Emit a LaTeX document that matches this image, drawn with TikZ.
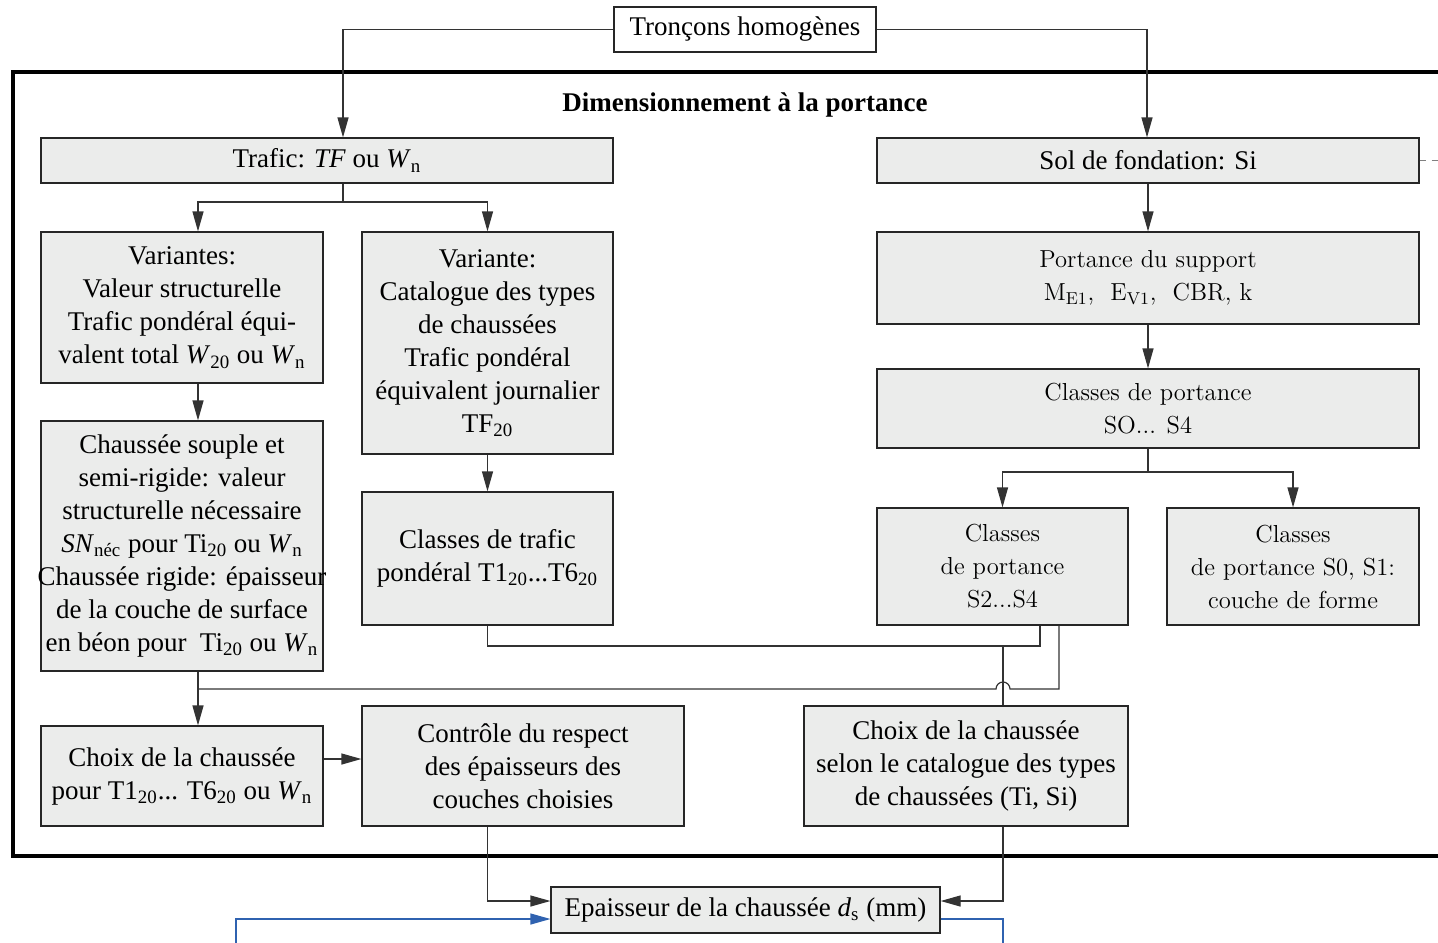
\documentclass[tikz,border=0pt]{standalone}
\usepackage{fontspec}
\setmainfont{Liberation Serif}
\usetikzlibrary{arrows.meta,calc}
\definecolor{boxfill}{HTML}{EBECEB}
\definecolor{linec}{HTML}{333333}
\definecolor{bluec}{HTML}{2F62B0}
\begin{document}
\begin{tikzpicture}[x=0.5pt,y=-0.5pt,
  box/.style={draw=black!85,line width=0.6pt,fill=boxfill,align=center,inner sep=0pt,font=\fontsize{13.5}{16.5}\selectfont},
  lmbox/.style={box,font=\fontfamily{lmr}\fontsize{12.3}{16.5}\selectfont},
  conn/.style={draw=linec,line width=0.6pt},
  arr/.style={conn,-{Triangle[length=10pt,width=5.5pt]}},
  bluearr/.style={draw=bluec,line width=0.6pt,-{Triangle[length=10pt,width=5.5pt]}},
  blueline/.style={draw=bluec,line width=0.6pt},
]
\useasboundingbox (0,0) rectangle (1438,942);
\fill[white] (0,0) rectangle (1438,942);

% outer frame
\draw[line width=2pt] (1450,72) -- (13,72) -- (13,856) -- (1450,856);

% nodes
\node[box,fill=white,minimum width=131pt,minimum height=22.5pt] (tron) at (745,29.5) {Tronçons homogènes};
\node[font=\bfseries\fontsize{13.5}{16.5}\selectfont] (title) at (745,105) {Dimensionnement à la portance};
\node[box,minimum width=286pt,minimum height=22.5pt] (traf) at (327,160.5) {Trafic: \textit{TF} ou \textit{W}\textsubscript{n}};
\node[box,minimum width=271pt,minimum height=22.5pt] (sol) at (1148,160.5) {Sol de fondation: Si};
\node[box,minimum width=141pt,minimum height=75.5pt] (var1) at (182,307.5) {Variantes:\\Valeur structurelle\\Trafic pondéral équi-\\valent total \textit{W}\textsubscript{20} ou \textit{W}\textsubscript{n}};
\node[box,minimum width=125.5pt,minimum height=111pt] (var2) at (487.5,343) {Variante:\\Catalogue des types\\de chaussées\\Trafic pondéral\\équivalent journalier\\TF\textsubscript{20}};
\node[box,minimum width=141pt,minimum height=125pt] (chs) at (182,546) {Chaussée souple et\\semi-rigide: valeur\\structurelle nécessaire\\\textit{SN}\textsubscript{néc} pour Ti\textsubscript{20} ou \textit{W}\textsubscript{n}\\\makebox[130pt][c]{Chaussée rigide: épaisseur}\\de la couche de surface\\en béon pour~ Ti\textsubscript{20} ou \textit{W}\textsubscript{n}};
\node[box,minimum width=125.5pt,minimum height=66.5pt] (ctraf) at (487.5,558.5) {Classes de trafic\\pondéral T1\textsubscript{20}...T6\textsubscript{20}};
\node[lmbox,minimum width=271pt,minimum height=46pt] (port) at (1148,278) {Portance du support\\M\textsubscript{E1}, ~E\textsubscript{V1}, ~CBR, k};
\node[lmbox,minimum width=271pt,minimum height=39.5pt] (cport) at (1148,408.5) {Classes de portance\\SO... S4};
\node[lmbox,minimum width=125.5pt,minimum height=58.5pt] (s24) at (1002.5,566.5) {Classes\\de portance\\S2...S4};
\node[lmbox,minimum width=126pt,minimum height=58.5pt] (s01) at (1293,566.5) {Classes\\de portance S0, S1:\\couche de forme};
\node[box,minimum width=141pt,minimum height=50pt] (choix1) at (182,776) {Choix de la chaussée\\pour T1\textsubscript{20}... T6\textsubscript{20} ou \textit{W}\textsubscript{n}};
\node[box,minimum width=161pt,minimum height=60pt] (ctrl) at (523,766) {Contrôle du respect\\des épaisseurs des\\couches choisies};
\node[box,minimum width=162pt,minimum height=60pt] (choix2) at (966,766) {Choix de la chaussée\\selon le catalogue des types\\de chaussées (Ti, Si)};
\node[box,minimum width=194.5pt,minimum height=23pt] (epa) at (745.5,910) {Epaisseur de la chaussée \textit{d}\textsubscript{s} (mm)};

% coordinates
\coordinate (tl) at (343,29.5);
\coordinate (tr) at (1147,29.5);
\coordinate (ts) at (343,202);
\coordinate (v1) at (198,202);
\coordinate (cs) at (1148,472);
\coordinate (j1) at (1040,646);
\coordinate (j2) at (1003,646);
\coordinate (k1) at (1059,689);
\coordinate (k2) at (1010,689);
\coordinate (k0) at (198,689);
\coordinate (e1) at (487.5,901);
\coordinate (e2) at (1003,901);
\coordinate (b1) at (236,919);
\coordinate (b0) at (236,950);
\coordinate (b2) at (1003,919);
\coordinate (b3) at (1003,950);
\coordinate (d1) at (1445,160.5);

% connectors
\draw[arr] (tron.west) -- (tl) -- (tl |- traf.north);
\draw[arr] (tron.east) -- (tr) -- (tr |- sol.north);
\draw[conn] (ts |- traf.south) -- (ts);
\draw[arr] (ts) -- (v1) -- (v1 |- var1.north);
\draw[arr] (ts) -| (var2.north);
\draw[arr] (v1 |- var1.south) -- (v1 |- chs.north);
\draw[arr] (var2.south) -- (ctraf.north);
\draw[conn,dashed,draw=gray] (sol.east) -- (d1);
\draw[arr] (sol.south) -- (port.north);
\draw[arr] (port.south) -- (cport.north);
\draw[conn] (cport.south) -- (cs);
\draw[arr] (cs) -| (s24.north);
\draw[arr] (cs) -| (s01.north);
\draw[conn] (ctraf.south) |- (j1) -- (j1 |- s24.south);
\draw[conn] (j2) -- (j2 |- choix2.north);
\draw[conn] (k1 |- s24.south) -- (k1) -- (k2) arc[start angle=0,end angle=180,radius=3.5pt] -- (k0);
\draw[arr] (v1 |- chs.south) -- (v1 |- choix1.north);
\draw[arr] ($(choix1.east)+(0,-17)$) -- ($(ctrl.west |- choix1.east)+(0,-17)$);
\draw[arr] (e1 |- ctrl.south) -- (e1) -- (e1 -| epa.west);
\draw[arr] (e2 |- choix2.south) -- (e2) -- (e2 -| epa.east);
\draw[bluearr] (b0) -- (b1) -- (b1 -| epa.west);
\draw[blueline] (b2 -| epa.east) -- (b2) -- (b3);
\end{tikzpicture}
\end{document}
